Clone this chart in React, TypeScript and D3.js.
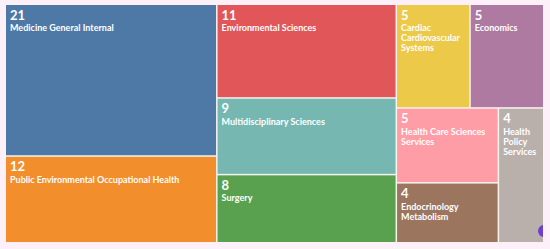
import * as d3 from 'd3';
import React, { useRef, useEffect } from 'react';

const categories = [
  'Medicine General Internal',
  'Public Environmental Occupational Health',
  'Environmental Sciences',
  'Multidisciplinary Sciences',
  'Surgery',
  'Cardiac Cardiovascular Systems',
  'Economics',
  'Health Care Sciences Services',
  'Endocrinology Metabolism',
  'Health Policy Services',
];
const counts = [21, 12, 11, 9, 8, 5, 5, 5, 4, 4];
const palette = ['#4e79a7', '#f28e2c', '#e15759', '#76b7b2', '#59a14f', '#edc949', '#af7aa1', '#ff9da7', '#9c755f', '#bab0ab'];

const W = 550;
const H = 249;
const FONT = 'Lato, sans-serif';

function Treemap() {
  const ref = useRef<SVGSVGElement>(null);

  useEffect(() => {
    const svg = d3.select(ref.current);
    svg.selectAll('*').remove();

    const margin = { top: 5, right: 7, bottom: 7, left: 6 };

    svg.append('rect').attr('width', W).attr('height', H).attr('fill', '#fdf0f8');

    const data = categories.map((name, i) => ({ name, value: counts[i] }));
    const root = d3.hierarchy<any>({ children: data })
      .sum(d => d.value || 0)
      .sort((a, b) => (b.value || 0) - (a.value || 0));

    d3.treemap<any>()
      .tile(d3.treemapSquarify)
      .size([W - margin.left - margin.right, H - margin.top - margin.bottom])
      .paddingInner(1.5)
      .round(false)(root);

    const g = svg.append('g').attr('transform', `translate(${margin.left},${margin.top})`);

    g.append('rect')
      .attr('width', W - margin.left - margin.right)
      .attr('height', H - margin.top - margin.bottom)
      .attr('fill', '#f7f4ef');

    const color = d3.scaleOrdinal<string, string>().domain(categories).range(palette);

    const leaves = root.leaves() as d3.HierarchyRectangularNode<any>[];
    const cell = g.selectAll('g.cell')
      .data(leaves)
      .join('g')
      .attr('class', 'cell')
      .attr('transform', d => `translate(${d.x0},${d.y0})`);

    cell.append('rect')
      .attr('width', d => d.x1 - d.x0)
      .attr('height', d => d.y1 - d.y0)
      .attr('fill', d => color(d.data.name));

    cell.append('text')
      .attr('x', 4)
      .attr('y', 14.5)
      .attr('fill', '#fff')
      .attr('font-family', FONT)
      .attr('font-weight', 700)
      .attr('font-size', 13)
      .text(d => d.data.value);

    cell.each(function (d) {
      const maxW = d.x1 - d.x0 - 7;
      const t = d3.select(this).append('text')
        .attr('fill', '#fff')
        .attr('font-family', FONT)
        .attr('font-weight', 700)
        .attr('font-size', 9);
      const words = (d.data.name as string).split(' ');
      const lines: string[] = [];
      let line = '';
      const probe = t.append('tspan');
      for (const w of words) {
        const test = line ? line + ' ' + w : w;
        probe.text(test);
        const len = (probe.node() as SVGTSpanElement).getComputedTextLength();
        if (len > maxW && line) {
          lines.push(line);
          line = w;
        } else {
          line = test;
        }
      }
      if (line) lines.push(line);
      probe.remove();
      lines.forEach((l, i) => {
        t.append('tspan').attr('x', 4).attr('y', 26 + i * 10.2).text(l);
      });
    });

    // small purple badge at the bottom-right corner
    svg.append('clipPath').attr('id', 'badge-clip')
      .append('rect').attr('x', 0).attr('y', 0).attr('width', W - margin.right).attr('height', H);
    svg.append('circle')
      .attr('cx', W - margin.right + 1)
      .attr('cy', H - margin.bottom - 11)
      .attr('r', 6)
      .attr('fill', '#6b3fd4')
      .attr('clip-path', 'url(#badge-clip)');
  }, []);

  return <svg ref={ref} width={W} height={H} style={{ display: 'block' }} />;
}

export default function App() {
  return (
    <div style={{ position: 'absolute', left: 0, top: 0, width: W, height: H }}>
      <Treemap />
    </div>
  );
}
